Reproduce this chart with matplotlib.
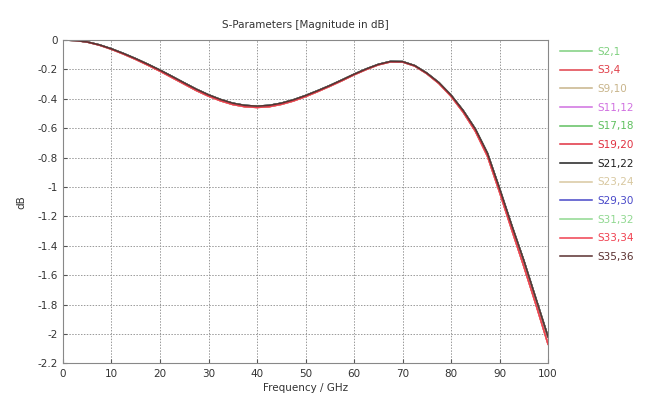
import matplotlib
matplotlib.use('Agg')
import matplotlib.pyplot as plt
from matplotlib.ticker import FuncFormatter

plt.rcParams['font.family'] = ['DejaVu Sans']
plt.rcParams['axes.unicode_minus'] = False

# 频率点 (GHz)
freq = [0, 2.5, 5, 7.5, 10, 12.5, 15, 17.5, 20, 22.5, 25, 27.5, 30, 32.5,
        35, 37.5, 40, 42.5, 45, 47.5, 50, 52.5, 55, 57.5, 60, 62.5, 65,
        67.5, 70, 72.5, 75, 77.5, 80, 82.5, 85, 87.5, 90, 92.5, 95, 97.5, 100]
# 主曲线 (dB)
db_main = [0, -0.003, -0.013, -0.033, -0.06, -0.092, -0.127, -0.165, -0.205,
           -0.248, -0.292, -0.335, -0.373, -0.405, -0.43, -0.445, -0.45,
           -0.445, -0.43, -0.407, -0.378, -0.345, -0.31, -0.272, -0.233,
           -0.197, -0.166, -0.146, -0.147, -0.174, -0.225, -0.29, -0.375,
           -0.48, -0.605, -0.77, -1.01, -1.26, -1.5, -1.76, -2.02]
# 略有偏差的曲线 (dB)
db_alt = [0, -0.003, -0.014, -0.035, -0.063, -0.096, -0.132, -0.171, -0.212,
          -0.256, -0.3, -0.344, -0.382, -0.414, -0.439, -0.454, -0.459,
          -0.454, -0.438, -0.415, -0.385, -0.351, -0.315, -0.277, -0.237,
          -0.201, -0.169, -0.149, -0.15, -0.177, -0.229, -0.296, -0.383,
          -0.491, -0.62, -0.79, -1.035, -1.29, -1.54, -1.8, -2.07]

labels = ['S2,1', 'S3,4', 'S9,10', 'S11,12', 'S17,18', 'S19,20', 'S21,22',
          'S23,24', 'S29,30', 'S31,32', 'S33,34', 'S35,36']
colors = ['#7fd07f', '#e0404a', '#c8b48a', '#d070e0', '#60c060', '#e03040',
          '#202020', '#d8c8a0', '#4848c8', '#90d890', '#f04050', '#5a3030']
use_alt = [False, True, False, False, False, True, False, True, False,
           False, True, False]

fig = plt.figure(figsize=(6.54, 4.07), dpi=100)
ax = fig.add_axes([0.0963, 0.1074, 0.7417, 0.7943])

# 绘制曲线
for label, color, alt in zip(labels, colors, use_alt):
    ax.plot(freq, db_alt if alt else db_main, color=color, lw=1.1, label=label)

ax.set_xlim(0, 100)
ax.set_ylim(-2.2, 0)
ax.set_xticks(range(0, 101, 10))
ax.set_yticks([-2.2 + 0.2 * i for i in range(12)])
ax.yaxis.set_major_formatter(FuncFormatter(lambda v, p: '%g' % round(v, 1)))
ax.tick_params(direction='in', length=3, labelsize=7.5, colors='#555555',
               labelcolor='#333333', pad=4)
ax.grid(True, color='#999999', linestyle=(0, (1.5, 1.5)), linewidth=0.7)
for sp in ax.spines.values():
    sp.set_color('#888888')

ax.set_title('S-Parameters [Magnitude in dB]', fontsize=7.5, color='#333333', pad=9)
ax.set_xlabel('Frequency / GHz', fontsize=7.5, color='#333333', labelpad=3)
ax.set_ylabel('dB', fontsize=7.5, color='#333333', labelpad=8)

# 图例
leg = ax.legend(loc='upper left', bbox_to_anchor=(1.005, 1.008), frameon=False,
                fontsize=7.5, handlelength=3.1, labelspacing=0.83,
                handletextpad=0.5)
for text, color in zip(leg.get_texts(), colors):
    text.set_color(color)

fig.savefig('out.png', dpi=100)
